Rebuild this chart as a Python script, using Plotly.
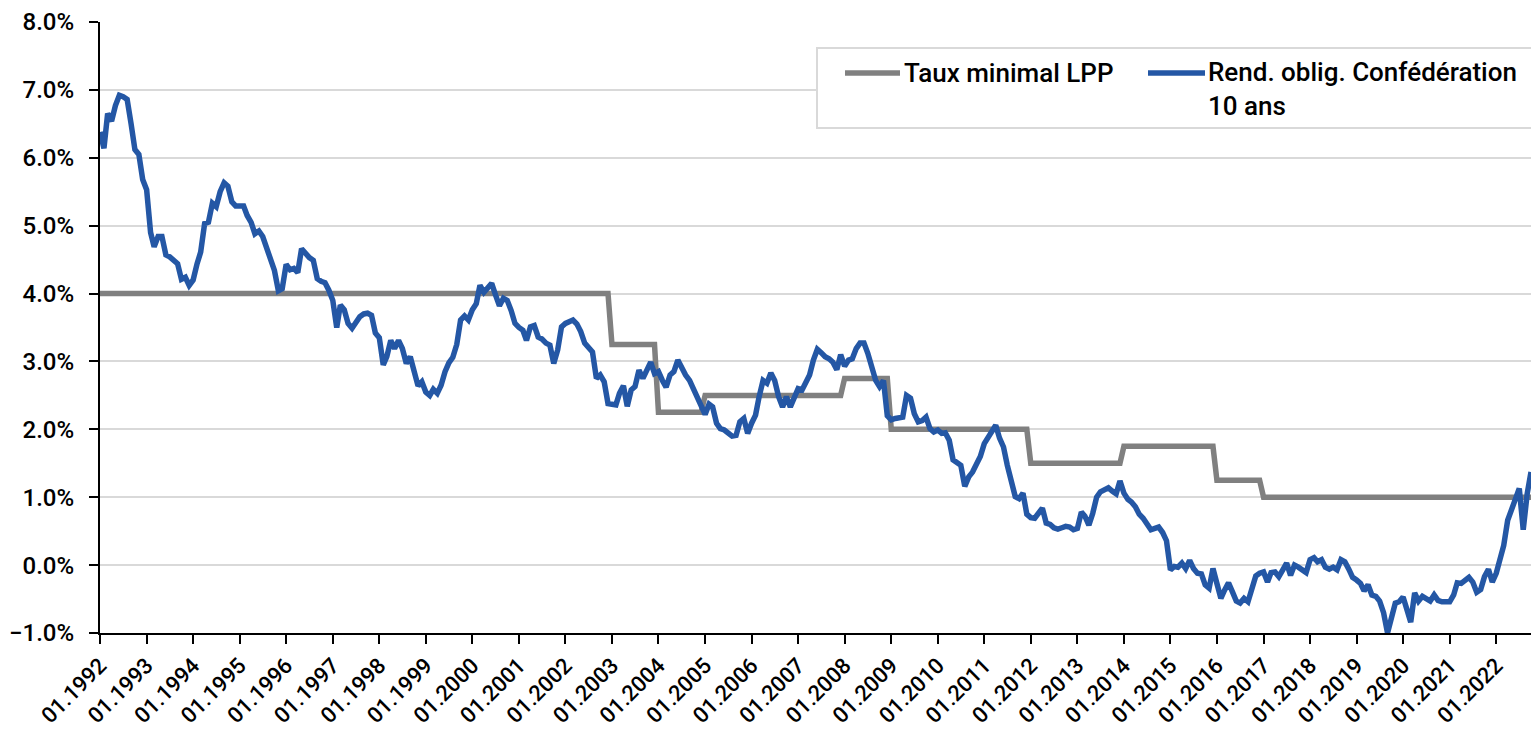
import pandas as pd
import plotly.graph_objects as go

# Rendement obligations Confédération 10 ans (monthly, from 01.1992)
bond_start = "1992-01-01"
bond_values = [
    6.38, 6.14, 6.65, 6.54, 6.77, 6.92, 6.90, 6.86, 6.50, 6.12, 6.05, 5.68,
    5.53, 4.90, 4.69, 4.84, 4.84, 4.57, 4.54, 4.49, 4.44, 4.21, 4.24, 4.12,
    4.20, 4.44, 4.61, 5.03, 5.05, 5.33, 5.28, 5.50, 5.63, 5.58, 5.35, 5.29,
    5.30, 5.29, 5.15, 5.05, 4.88, 4.92, 4.84, 4.66, 4.50, 4.34, 4.04, 4.07,
    4.43, 4.35, 4.37, 4.31, 4.66, 4.59, 4.53, 4.49, 4.22, 4.18, 4.16, 4.05,
    3.90, 3.50, 3.83, 3.76, 3.56, 3.49, 3.57, 3.66, 3.70, 3.71, 3.68, 3.42,
    3.35, 2.95, 3.07, 3.31, 3.19, 3.31, 3.19, 2.97, 3.07, 2.87, 2.64, 2.70,
    2.55, 2.50, 2.59, 2.53, 2.65, 2.85, 2.98, 3.06, 3.25, 3.61, 3.67, 3.61,
    3.76, 3.85, 4.12, 4.02, 4.10, 4.15, 3.98, 3.82, 3.93, 3.90, 3.75, 3.56,
    3.50, 3.46, 3.31, 3.51, 3.53, 3.36, 3.33, 3.27, 3.24, 2.97, 3.17, 3.51,
    3.56, 3.58, 3.61, 3.55, 3.44, 3.27, 3.21, 3.14, 2.75, 2.80, 2.70, 2.38,
    2.37, 2.36, 2.53, 2.64, 2.34, 2.58, 2.63, 2.87, 2.75, 2.87, 2.99, 2.82,
    2.85, 2.72, 2.62, 2.80, 2.85, 3.02, 2.90, 2.80, 2.72, 2.59, 2.46, 2.36,
    2.22, 2.37, 2.33, 2.09, 2.01, 1.99, 1.94, 1.90, 1.91, 2.11, 2.16, 1.94,
    2.09, 2.21, 2.48, 2.72, 2.68, 2.83, 2.72, 2.48, 2.33, 2.48, 2.33, 2.45,
    2.60, 2.58, 2.70, 2.80, 3.02, 3.18, 3.13, 3.07, 3.04, 2.99, 2.88, 3.10,
    2.93, 3.02, 3.04, 3.19, 3.27, 3.27, 3.12, 2.95, 2.72, 2.63, 2.72, 2.20,
    2.14, 2.16, 2.16, 2.18, 2.50, 2.46, 2.23, 2.11, 2.13, 2.18, 2.01, 1.96,
    1.99, 1.94, 1.95, 1.84, 1.55, 1.50, 1.47, 1.16, 1.30, 1.37, 1.47, 1.60,
    1.79, 1.88, 1.94, 2.06, 1.87, 1.74, 1.47, 1.20, 1.01, 0.98, 1.06, 0.75,
    0.70, 0.69, 0.75, 0.84, 0.62, 0.60, 0.55, 0.53, 0.55, 0.57, 0.56, 0.52,
    0.54, 0.78, 0.72, 0.59, 0.76, 1.00, 1.08, 1.12, 1.14, 1.09, 1.05, 1.24,
    1.06, 0.97, 0.93, 0.86, 0.75, 0.69, 0.59, 0.52, 0.54, 0.56, 0.48, 0.36,
    -0.07, -0.02, -0.03, 0.03, -0.05, 0.07, -0.05, -0.12, -0.13, -0.29, -0.34, -0.05,
    -0.27, -0.49, -0.37, -0.26, -0.39, -0.53, -0.56, -0.49, -0.54, -0.34, -0.16, -0.12,
    -0.10, -0.25, -0.11, -0.10, -0.17, -0.07, 0.03, -0.15, 0.00, -0.03, -0.07, -0.11,
    0.08, 0.11, 0.05, 0.08, -0.03, -0.06, -0.03, -0.07, 0.08, 0.05, -0.06, -0.18,
    -0.22, -0.27, -0.38, -0.29, -0.44, -0.46, -0.53, -0.70, -1.00, -0.79, -0.56, -0.54,
    -0.47, -0.66, -0.84, -0.41, -0.53, -0.46, -0.49, -0.53, -0.44, -0.52, -0.54, -0.54,
    -0.54, -0.44, -0.26, -0.27, -0.22, -0.18, -0.25, -0.40, -0.36, -0.17, -0.06, -0.25,
    -0.12, 0.10, 0.29, 0.66, 0.82, 0.96, 1.13, 0.52, 1.05, 1.37,
]
bond_dates = pd.date_range(bond_start, periods=len(bond_values), freq="MS")

# Taux minimal LPP (step changes)
lpp_dates = ["1992-01-01", "2002-12-01", "2003-01-01", "2003-12-01", "2004-01-01",
             "2004-12-01", "2005-01-01", "2007-12-01", "2008-01-01", "2008-12-01",
             "2009-01-01", "2011-12-01", "2012-01-01", "2013-12-01", "2014-01-01",
             "2015-12-01", "2016-01-01", "2016-12-01", "2017-01-01", "2022-10-01"]
lpp_values = [4.0, 4.0, 3.25, 3.25, 2.25, 2.25, 2.5, 2.5, 2.75, 2.75,
              2.0, 2.0, 1.5, 1.5, 1.75, 1.75, 1.25, 1.25, 1.0, 1.0]

name_lpp = "Taux minimal LPP"
name_bond = "Rend. oblig. Confédération<br>10 ans"

GRAY = "#808080"
BLUE = "#2457A5"
FONT = "Roboto"

fig = go.Figure()
fig.add_trace(go.Scatter(x=lpp_dates, y=lpp_values, mode="lines", name=name_lpp,
                         line=dict(color=GRAY, width=5.5), showlegend=False))
fig.add_trace(go.Scatter(x=bond_dates, y=bond_values, mode="lines", name=name_bond,
                         line=dict(color=BLUE, width=5.5), showlegend=False))

W, H = 1531, 732
L, R, T, B = 100, 0, 22, 99

# pixel -> paper helpers (plot area: x 100..1531, y 22..633)
def px(xp):
    return (xp - L) / (W - L - R)

def py(yp):
    return (H - B - yp) / (H - T - B)

# legend box
fig.add_shape(type="rect", xref="paper", yref="paper",
              x0=px(817), x1=px(1545), y0=py(128), y1=py(48),
              line=dict(color="#d9d9d9", width=2), fillcolor="white", layer="above")
fig.add_shape(type="line", xref="paper", yref="paper",
              x0=px(845), x1=px(900), y0=py(73), y1=py(73),
              line=dict(color=GRAY, width=5.5), layer="above")
fig.add_shape(type="line", xref="paper", yref="paper",
              x0=px(1148), x1=px(1205), y0=py(73), y1=py(73),
              line=dict(color=BLUE, width=5.5), layer="above")
fig.add_annotation(xref="paper", yref="paper", x=px(902), y=py(73),
                   xanchor="left", yanchor="middle", showarrow=False,
                   text=name_lpp, font=dict(family=FONT, size=26, color="black", weight=500))
fig.add_annotation(xref="paper", yref="paper", x=px(1206), y=py(55),
                   xanchor="left", yanchor="top", showarrow=False, align="left",
                   text=name_bond, font=dict(family=FONT, size=26, color="black", weight=500))

fig.update_layout(
    width=W, height=H,
    margin=dict(l=L, r=R, t=T, b=B, pad=0, autoexpand=False),
    paper_bgcolor="white", plot_bgcolor="white",
    font=dict(family=FONT, size=24, color="black"),
    showlegend=False,
)
fig.update_xaxes(
    type="date", range=["1992-01-01", "2022-10-01"], automargin=False,
    tick0="1992-01-01", dtick="M12", tickformat="%m.%Y", tickangle=-45,
    showgrid=False, showline=True, linecolor="black", linewidth=2,
    ticks="outside", ticklen=9, tickwidth=2, tickcolor="black",
    tickfont=dict(family=FONT, size=22, color="black", weight=500),
)
fig.update_yaxes(
    range=[-1, 8], dtick=1, tickformat=".1f", ticksuffix="%", automargin=False,
    showgrid=True, gridcolor="#d9d9d9", gridwidth=2, zeroline=False,
    showline=True, linecolor="black", linewidth=2,
    ticks="outside", ticklen=9, tickwidth=2, tickcolor="black",
    ticklabelstandoff=10,
    tickfont=dict(family=FONT, size=24, color="black", weight=500),
)

fig.write_html(
    "out.html",
    config={"displayModeBar": False},
    post_script=(
        "document.body.style.margin='0';"
        "document.body.style.overflow='hidden';"
        "document.documentElement.style.overflow='hidden';"
    ),
)
